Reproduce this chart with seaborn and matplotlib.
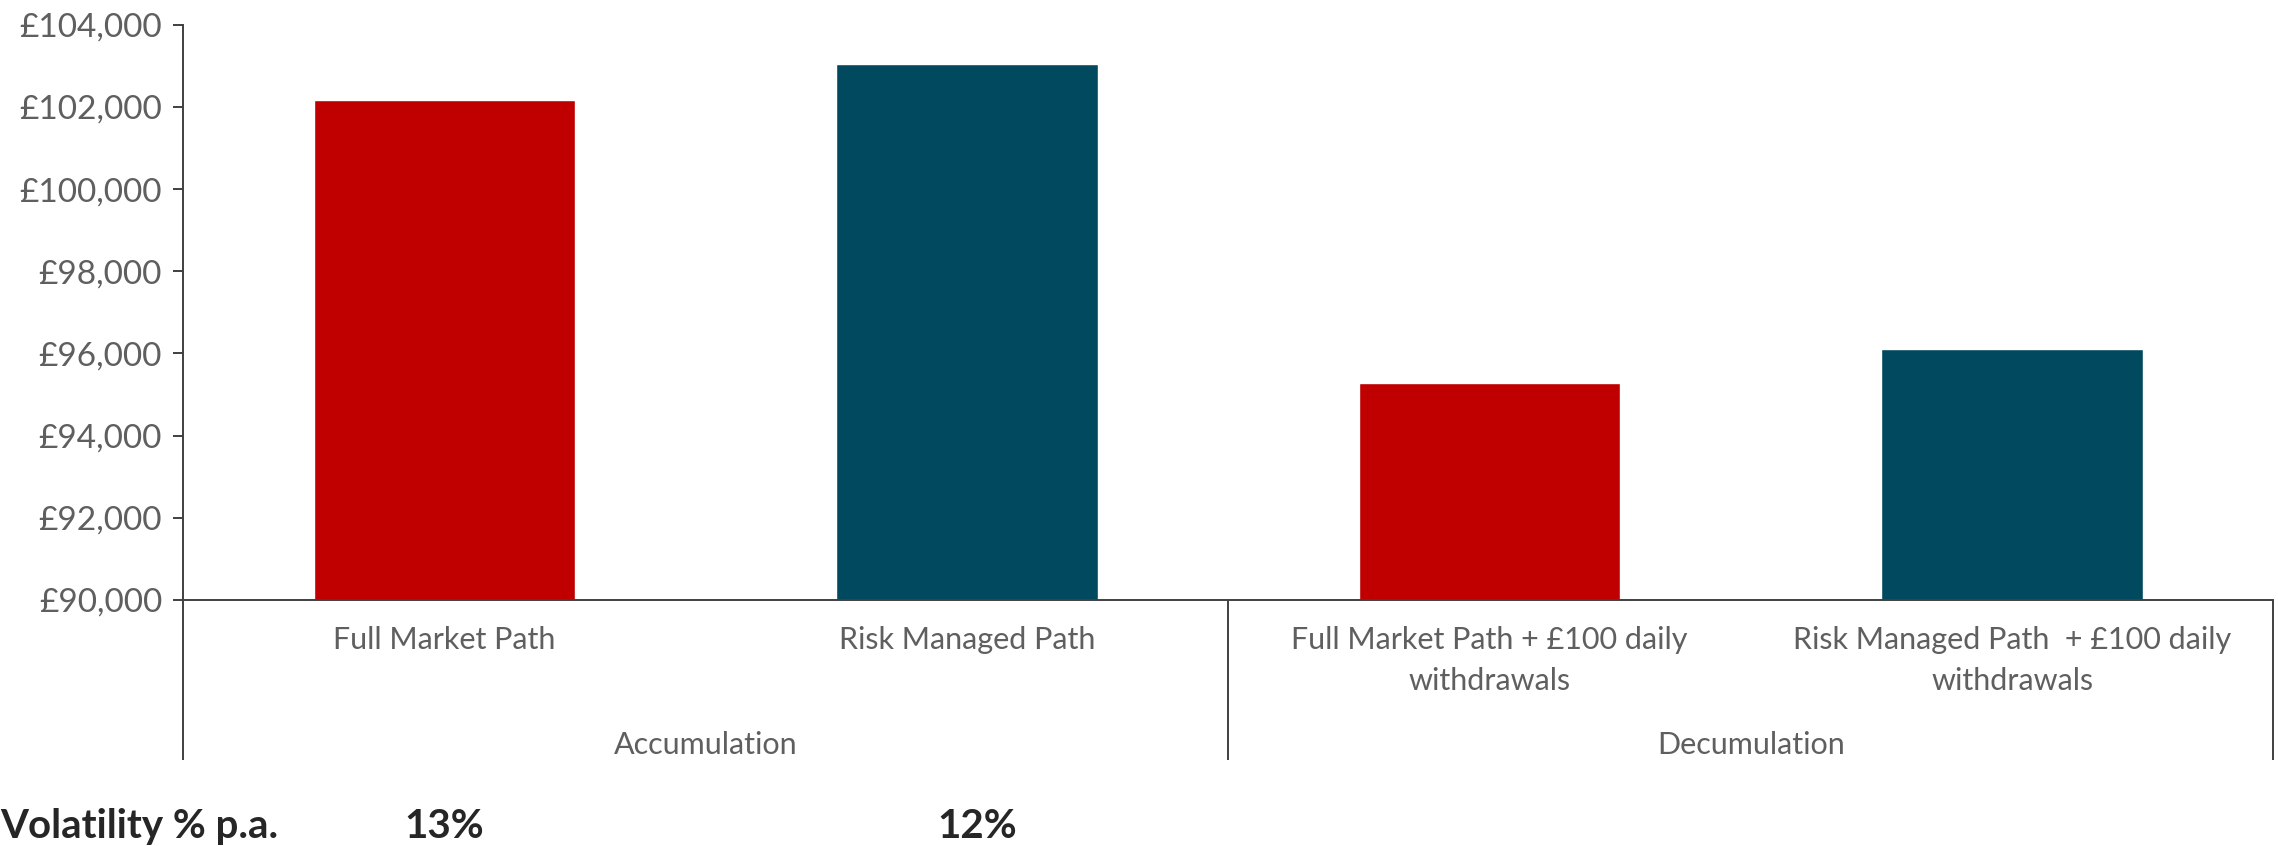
import matplotlib
matplotlib.use("Agg")
import matplotlib.pyplot as plt
import matplotlib.transforms as mtransforms
import seaborn as sns
import pandas as pd
from matplotlib.ticker import FuncFormatter

categories = ["Full Market Path", "Risk Managed Path",
              "Full Market Path + £100 daily\nwithdrawals",
              "Risk Managed Path  + £100 daily\nwithdrawals"]
values = [102160, 103040, 95270, 96120]
paths = ["Full Market", "Risk Managed", "Full Market", "Risk Managed"]
groups = ["Accumulation", "Decumulation"]
volatility = ["13%", "12%"]
yticks = [90000, 92000, 94000, 96000, 98000, 100000, 102000, 104000]

df = pd.DataFrame({"category": categories, "value": values, "path": paths})

sns.set_theme(style="white")
plt.rcParams["font.family"] = ["Lato", "DejaVu Sans"]

grey = "#5f5f5f"
line_c = "#404040"

fig = plt.figure(figsize=(22.78, 8.46), dpi=100)
ax = fig.add_axes([0.0803, 0.2908, 0.9177, 0.68])

sns.barplot(data=df, x="category", y="value", hue="path",
            palette={"Full Market": "#C00000", "Risk Managed": "#01495E"},
            width=0.5, dodge=False, legend=False, saturation=1, ax=ax)

ax.set_xlim(-0.5, 3.5)
ax.set_ylim(90000, 104000)
ax.set_yticks(yticks)
ax.yaxis.set_major_formatter(FuncFormatter(lambda v, p: f"£{v:,.0f}"))
ax.set_xlabel("")
ax.set_ylabel("")

sns.despine(ax=ax)
for s in ["left", "bottom"]:
    ax.spines[s].set_color(line_c)
    ax.spines[s].set_linewidth(1.4)

ax.tick_params(axis="y", left=True, length=7, width=1.4, color=line_c,
               labelsize=24, labelcolor=grey, pad=8)
ax.tick_params(axis="x", bottom=False, length=0, labelsize=22,
               labelcolor=grey, pad=19)
for lab in ax.get_xticklabels():
    lab.set_linespacing(1.55)

# group separators and labels below the axis
trans = mtransforms.blended_transform_factory(ax.transData, ax.transAxes)
for x in [-0.5, 1.5, 3.5]:
    ax.plot([x, x], [0, -0.278], transform=trans, color=line_c,
            lw=1.4, clip_on=False, solid_capstyle="butt")
for i, g in enumerate(groups):
    ax.text(0.5 + 2 * i, -0.252, g, transform=trans, ha="center",
            va="center", fontsize=22, color=grey)

# volatility row
ftrans = mtransforms.blended_transform_factory(ax.transData, fig.transFigure)
fig.text(0.0, 0.023, "Volatility % p.a.", ha="left", va="center",
         fontsize=29, fontweight="bold", color="#262626")
for i, v in enumerate(volatility):
    ax.text(i + 0.02 * i, 0.023, v, transform=ftrans, ha="center", va="center",
            fontsize=29, fontweight="bold", color="#262626")

fig.savefig("out.png", dpi=100)
